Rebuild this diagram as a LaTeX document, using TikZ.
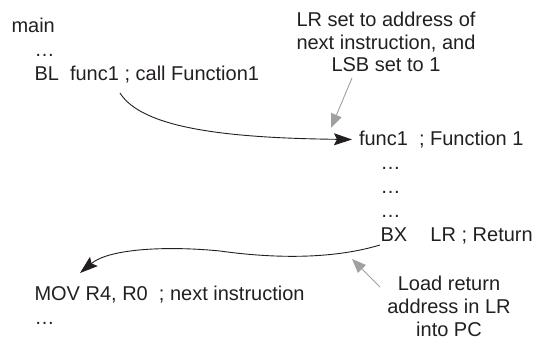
\documentclass[tikz,border=0pt]{standalone}
\usepackage{fontspec}
\setmainfont{Liberation Sans}
\usetikzlibrary{arrows.meta}
\definecolor{txt}{RGB}{35,31,32}
\definecolor{pale}{RGB}{160,160,160}
\begin{document}
\begin{tikzpicture}[x=1pt,y=-1pt,
  code/.style={anchor=base west, inner sep=0pt, outer sep=0pt, text=txt, font=\fontsize{20}{24}\selectfont},
  notetop/.style={anchor=base, inner sep=0pt, align=center, text=txt, font=\fontsize{20}{22.5}\selectfont},
  notebot/.style={anchor=base, inner sep=0pt, align=center, text=txt, font=\fontsize{20}{23.3}\selectfont},
  flow/.style={draw=txt, line width=0.9pt, -{Stealth[length=18pt,width=12pt,inset=3pt]}},
  hint/.style={draw=pale, line width=0.9pt, -{Triangle[length=14pt,width=11pt]}}]
\useasboundingbox (0,0) rectangle (537,343);
% main
\node[code] (m1) at (11.5,32) {main};
\node[code] (m2) at (34.5,56) {…};
\node[code] (m3) at (34.5,80.5) {BL\ \ func1 ; call Function1};
% function
\node[code] (f1) at (359,145.5) {func1\ \ ; Function 1};
\node[code] (f2) at (380.5,169) {…};
\node[code] (f3) at (380.5,193) {…};
\node[code] (f4) at (380.5,217) {…};
\node[code] (f5) at (380.5,241.5) {BX\hspace{23.3pt}LR ; Return};
% return point
\node[code] (r1) at (34.5,300.5) {MOV R4, R0\ \ ; next instruction};
\node[code] (r2) at (34.5,324) {…};
% notes (base anchor = baseline of last line)
\node[notetop] (n1) at (386,71.7) {LR set to address of\\next instruction, and\\LSB set to 1};
\node[notebot] (n2) at (449,336.7) {Load return\\address in LR\\into PC};
% connector end points
\coordinate (c1s) at (120,93);
\coordinate (c1e) at (352,139.5);
\coordinate (c2s) at (380,245);
\coordinate (c2m) at (220,251);
\coordinate (c2e) at (80,273);
\coordinate (g1s) at (352,78);
\coordinate (g1e) at (331,128);
\coordinate (g2s) at (380,287);
\coordinate (g2e) at (352,259);
% call
\draw[flow] (c1s) .. controls (142,128) and (225,138) .. (c1e);
% return
\draw[flow] (c2s) .. controls (330,260) and (270,258) .. (c2m)
                  .. controls (170,246) and (110,248) .. (c2e);
% hints
\draw[hint] (g1s) -- (g1e);
\draw[hint] (g2s) -- (g2e);
\end{tikzpicture}
\end{document}
